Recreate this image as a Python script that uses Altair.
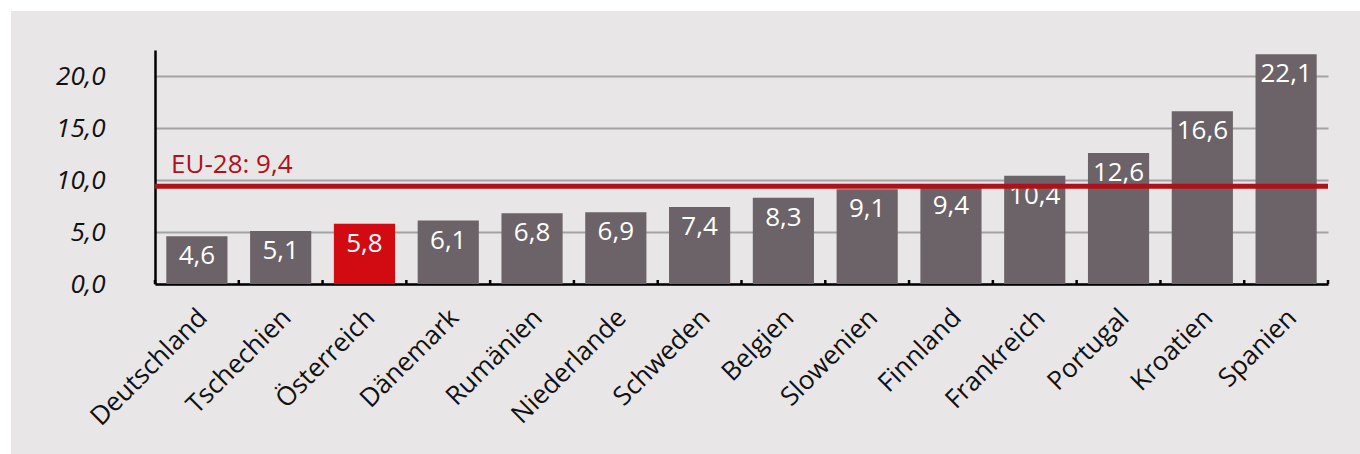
import altair as alt
import pandas as pd

countries = ["Deutschland", "Tschechien", "Österreich", "Dänemark", "Rumänien", "Niederlande",
             "Schweden", "Belgien", "Slowenien", "Finnland", "Frankreich", "Portugal", "Kroatien", "Spanien"]
values = [4.6, 5.1, 5.8, 6.1, 6.8, 6.9, 7.4, 8.3, 9.1, 9.4, 10.4, 12.6, 16.6, 22.1]
highlight = ["Österreich"]
eu_label = "EU-28"
eu_value = [9.4]
y_ticks = [0, 5, 10, 15, 20]

FONT = "Open Sans"
FS = 26
W, H = 1173, 234
BG = "#e8e6e7"
BAR = "#6b6367"
RED = "#d20b12"
DARKRED = "#b0101a"

df = pd.DataFrame({"country": countries, "value": values})
df["label"] = [f"{v:.1f}".replace(".", ",") for v in values]
df["hl"] = [c in highlight for c in countries]

xenc = alt.X("country:N", sort=None,
             scale=alt.Scale(paddingInner=0, paddingOuter=0),
             axis=alt.Axis(title=None, labelAngle=-45, labelAlign="right", labelBaseline="top",
                           labelFont=FONT, labelFontSize=FS, labelColor="#111111",
                           labelPadding=20, labelOffset=-3,
                           ticks=False, domain=True, domainColor="#000000", domainWidth=2.5))
yenc = alt.Y("value:Q", scale=alt.Scale(domain=[0, 22.5], nice=False),
             axis=alt.Axis(title=None, values=y_ticks, ticks=False, labelPadding=50,
                           labelFont=FONT, labelFontSize=FS, labelFontStyle="italic",
                           labelColor="#111111",
                           labelExpr="replace(format(datum.value, '.1f'), '.', ',')",
                           grid=True, gridColor="#a3a3a3", gridWidth=2,
                           domain=True, domainColor="#000000", domainWidth=2.5))

base = alt.Chart(df)

bars = base.mark_bar(width=alt.RelativeBandSize(0.73)).encode(
    x=xenc, y=yenc,
    color=alt.Color("hl:N", scale=alt.Scale(domain=[False, True], range=[BAR, RED]), legend=None),
)

labels = base.mark_text(color="white", font=FONT, fontSize=FS, baseline="middle", dy=20).encode(
    x=alt.X("country:N", sort=None), y="value:Q", text="label:N")

ticks = base.mark_rule(color="#000000", strokeWidth=2.5).encode(
    x=alt.X("country:N", sort=None, bandPosition=0), y=alt.value(H - 4), y2=alt.value(H))

end_tick = alt.Chart(alt.Data(values=[{}])).mark_rule(color="#000000", strokeWidth=2.5).encode(
    x=alt.value(W), y=alt.value(H - 4), y2=alt.value(H))

eu_df = pd.DataFrame({"value": eu_value})
eu_df["text"] = [f"{eu_label}: {v:.1f}".replace(".", ",") for v in eu_value]

eu_rule = alt.Chart(eu_df).mark_rule(color=DARKRED, strokeWidth=5).encode(y="value:Q")
eu_text = alt.Chart(eu_df).mark_text(color=DARKRED, font=FONT, fontSize=FS, align="left",
                                     baseline="alphabetic", dy=-13).encode(
    x=alt.value(16), y="value:Q", text="text:N")

white_top = alt.Chart(alt.Data(values=[{}])).mark_rect(color="white").encode(
    x=alt.value(-155), x2=alt.value(1205), y=alt.value(-50), y2=alt.value(-39))
white_left = alt.Chart(alt.Data(values=[{}])).mark_rect(color="white").encode(
    x=alt.value(-155), x2=alt.value(-144), y=alt.value(-50), y2=alt.value(404))

chart = alt.layer(bars, labels, ticks, end_tick, eu_rule, eu_text, white_top, white_left).properties(
    width=W, height=H,
    autosize=alt.AutoSizeParams(type="none"),
    padding={"left": 155, "top": 50, "right": 32, "bottom": 170},
    background=BG,
).configure_view(stroke=None)

chart.save("out.html", embed_options={"renderer": "svg", "actions": False})
